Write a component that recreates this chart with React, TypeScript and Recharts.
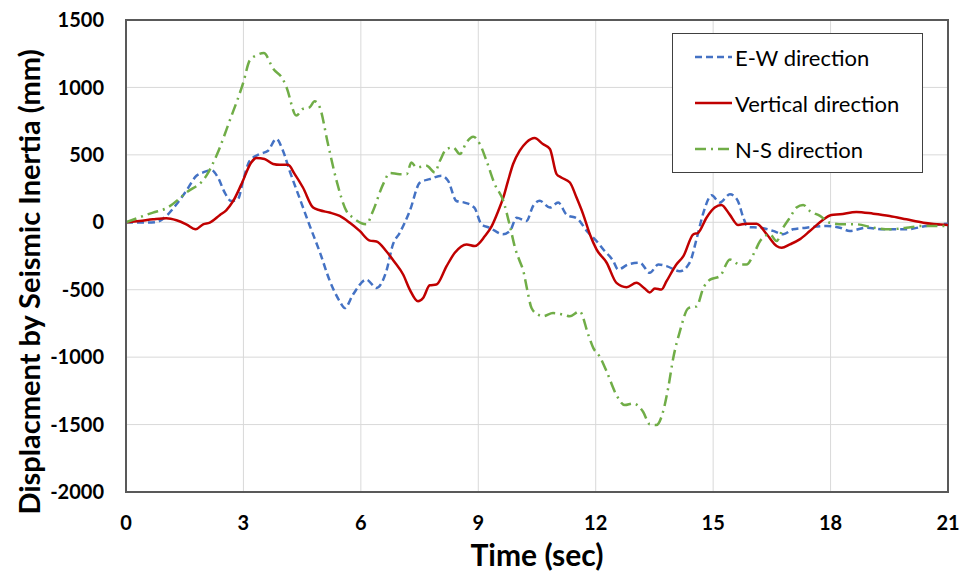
import {
  CartesianGrid,
  Legend,
  Line,
  LineChart,
  ReferenceArea,
  XAxis,
  YAxis,
} from 'recharts';

if (typeof document !== 'undefined') {
  document.documentElement.style.overflow = 'hidden';
  document.body.style.margin = '0';
  document.body.style.overflow = 'hidden';
}

const FONT = 'Lato, "Open Sans", sans-serif';

const xTicks = [0, 3, 6, 9, 12, 15, 18, 21];
const yTicks = [-2000, -1500, -1000, -500, 0, 500, 1000, 1500];

// E-W direction (dashed blue)
const ewTime = [
  0, 0.52, 0.78, 1.03, 1.29, 1.54, 1.8, 1.97, 2.18, 2.35, 2.52, 2.69, 2.86, 2.99, 3.16, 3.42,
  3.63, 3.84, 4.01, 4.18, 4.44, 4.7, 4.95, 5.21, 5.46, 5.59, 5.8, 6.14, 6.4, 6.65, 6.82, 6.99,
  7.25, 7.51, 7.76, 8.06, 8.23, 8.44, 8.65, 8.9, 9.08, 9.29, 9.63, 9.81, 9.98, 10.23, 10.4,
  10.57, 10.83, 11.04, 11.25, 11.55, 11.77, 12.02, 12.19, 12.45, 12.57, 12.83, 13.13, 13.38,
  13.6, 13.81, 14.15, 14.4, 14.58, 14.75, 14.96, 15.17, 15.43, 15.63, 15.77, 15.89, 16.19,
  16.53, 16.79, 17.04, 17.38, 17.9, 18.24, 18.49, 18.92, 19.34, 19.94, 20.45, 21,
];
const ewDisp = [
  0, -2, 2, 47, 134, 233, 345, 370, 387, 332, 221, 158, 171, 307, 456, 506,
  531, 618, 531, 382, 175, -30, -220, -437, -586, -636, -536, -425, -487, -363, -164, -80,
  84, 295, 320, 345, 307, 158, 146, 109, -15, -40, -89, -64, 34, 10, 121,
  159, 109, 146, 59, 22, -64, -139, -200, -288, -350, -313, -300, -375,
  -313, -325, -363, -300, -120, 70, 200, 146, 208, 159, 35, -35, -40,
  -64, -89, -52, -40, -27, -40, -64, -40, -52, -52, -27, -10,
];

// Vertical direction (solid red)
const vertTime = [
  0, 0.35, 0.69, 1.03, 1.29, 1.54, 1.78, 1.97, 2.14, 2.4, 2.56, 2.74, 2.95, 3.2, 3.33, 3.54,
  3.76, 3.93, 4.14, 4.31, 4.52, 4.78, 4.95, 5.2, 5.46, 5.71, 5.97, 6.23, 6.4, 6.65, 6.85, 7.08,
  7.25, 7.46, 7.59, 7.76, 7.93, 8.19, 8.4, 8.7, 8.91, 9.17, 9.34, 9.51, 9.64, 9.76, 9.89,
  10.06, 10.23, 10.44, 10.65, 10.83, 11.0, 11.12, 11.34, 11.51, 11.68, 11.85, 12.02, 12.28,
  12.53, 12.79, 13.04, 13.25, 13.38, 13.51, 13.68, 13.81, 14.06, 14.24, 14.49, 14.62, 14.83,
  15.04, 15.21, 15.42, 15.64, 15.85, 16.11, 16.37, 16.62, 16.75, 16.96, 17.21, 17.47, 17.77,
  18.02, 18.24, 18.66, 19.09, 19.51, 19.94, 20.37, 21,
];
const vertDisp = [
  0, 10, 22, 30, 15, -15, -52, -15, -3, 54, 89, 158, 283, 444, 476, 469,
  432, 426, 426, 357, 258, 109, 89, 72, 47, -2, -64, -136, -142, -215, -290, -387,
  -499, -586, -561, -467, -462, -325, -226, -164, -176, -102, -30, 84, 184, 307, 432,
  531, 593, 625, 580, 543, 357, 332, 295, 183, 59, -89, -201, -300,
  -449, -481, -449, -491, -520, -491, -499, -437, -313, -251, -90, -77, 34,
  109, 129, 59, -20, -10, -10, -89, -176, -189, -164, -127, -65, 10,
  54, 59, 77, 64, 47, 22, -3, -20,
];

// N-S direction (dash-dot green)
const nsTime = [
  0, 0.69, 1.03, 1.54, 2.05, 2.31, 2.65, 3.0, 3.16, 3.33, 3.52, 3.76, 4.0, 4.1, 4.35, 4.52,
  4.69, 4.82, 4.95, 5.16, 5.38, 5.63, 5.8, 6.14, 6.31, 6.57, 6.74, 6.99, 7.17, 7.29, 7.42,
  7.68, 7.89, 8.02, 8.19, 8.36, 8.53, 8.7, 8.87, 9.04, 9.21, 9.42, 9.64, 9.81, 9.95, 10.06,
  10.15, 10.25, 10.36, 10.53, 10.65, 10.91, 11.17, 11.34, 11.59, 11.81, 11.94, 12.1, 12.28,
  12.53, 12.74, 12.96, 13.21, 13.38, 13.55, 13.72, 13.85, 13.98, 14.15, 14.37, 14.58, 14.75,
  14.92, 15.17, 15.43, 15.68, 15.85, 16.07, 16.2, 16.45, 16.62, 16.79, 16.96, 17.13, 17.3,
  17.47, 17.73, 17.98, 18.32, 18.66, 19.09, 19.51, 19.94, 20.37, 21,
];
const nsDisp = [
  0, 72, 104, 220, 344, 493, 754, 1040, 1200, 1238, 1255, 1139, 1064, 1002, 791, 841,
  853, 898, 853, 580, 307, 84, 34, -15, 84, 283, 365, 357, 357, 444, 407,
  419, 370, 456, 543, 555, 506, 593, 635, 580, 456, 283, 158, -30, -200, -289,
  -360, -500, -636, -685, -697, -673, -685, -697, -660, -834, -933, -995, -1107,
  -1281, -1355, -1343, -1405, -1498, -1504, -1405, -1231, -1008, -809, -636, -623, -487,
  -425, -400, -276, -313, -313, -214, -139, -89, -139, -40, 34, 109, 129,
  84, 47, -3, -15, -15, -40, -52, -40, -27, -27,
];

const ewData = ewTime.map((t, i) => ({ t, v: ewDisp[i] }));
const vertData = vertTime.map((t, i) => ({ t, v: vertDisp[i] }));
const nsData = nsTime.map((t, i) => ({ t, v: nsDisp[i] }));

const SERIES = [
  { name: 'E-W direction', color: '#4472C4', dash: '7 4', data: ewData },
  { name: 'Vertical direction', color: '#C00000', dash: undefined, data: vertData },
  { name: 'N-S direction', color: '#70AD47', dash: '11 5 2 5', data: nsData },
];

function LegendBox() {
  return (
    <div
      style={{
        border: '1.5px solid #404040',
        background: '#fff',
        width: 251,
        height: 140,
        boxSizing: 'border-box',
        paddingLeft: 22,
        fontFamily: FONT,
        fontSize: 22,
        color: '#000',
      }}
    >
      {SERIES.map((s) => (
        <div key={s.name} style={{ display: 'flex', alignItems: 'center', height: 46 }}>
          <svg width={37} height={6} style={{ marginRight: 3 }}>
            <line
              x1={0}
              y1={3}
              x2={37}
              y2={3}
              stroke={s.color}
              strokeWidth={2.5}
              strokeDasharray={s.dash}
            />
          </svg>
          <span>{s.name}</span>
        </div>
      ))}
    </div>
  );
}

function YTitle(props: any) {
  const { viewBox } = props;
  const cx = viewBox.x + 28;
  const cy = viewBox.y + viewBox.height / 2 + 26;
  return (
    <text
      x={cx}
      y={cy}
      transform={`rotate(-90 ${cx} ${cy})`}
      textAnchor="middle"
      dominantBaseline="central"
      fontFamily={FONT}
      fontWeight={700}
      fontSize={29}
      fill="#000"
    >
      Displacment by Seismic Inertia (mm)
    </text>
  );
}

export default function App() {
  return (
    <div style={{ width: 960, height: 574, background: '#fff' }}>
      <LineChart
        width={960}
        height={574}
        margin={{ top: 20, right: 12, bottom: 0, left: 0 }}
        style={{ overflow: 'visible' }}
      >
        <CartesianGrid stroke="#d9d9d9" strokeWidth={1} />
        <ReferenceArea
          x1={0}
          x2={21}
          y1={-2000}
          y2={1500}
          fill="none"
          stroke="#595959"
          strokeWidth={2}
        />
        <XAxis
          dataKey="t"
          type="number"
          domain={[0, 21]}
          ticks={xTicks}
          interval={0}
          height={82}
          tickLine={false}
          tickSize={0}
          tickMargin={24}
          axisLine={{ stroke: '#595959', strokeWidth: 2 }}
          tick={{ fill: '#000', fontFamily: FONT, fontWeight: 700, fontSize: 20 }}
          label={{
            value: 'Time (sec)',
            position: 'insideBottom',
            offset: 8,
            fill: '#000',
            fontFamily: FONT,
            fontWeight: 700,
            fontSize: 30,
          }}
        />
        <YAxis
          type="number"
          domain={[-2000, 1500]}
          ticks={yTicks}
          interval={0}
          width={126}
          tickLine={false}
          tickSize={0}
          tickMargin={22}
          axisLine={{ stroke: '#595959', strokeWidth: 2 }}
          tick={{ fill: '#000', fontFamily: FONT, fontWeight: 700, fontSize: 20 }}
          label={<YTitle />}
        />
        <Legend
          layout="horizontal"
          verticalAlign="middle"
          align="center"
          content={<LegendBox />}
          wrapperStyle={{ top: 33, left: 672, width: 251, height: 140 }}
        />
        {SERIES.map((s) => (
          <Line
            key={s.name}
            data={s.data}
            dataKey="v"
            name={s.name}
            type="monotone"
            stroke={s.color}
            strokeWidth={2.5}
            strokeDasharray={s.dash}
            dot={false}
            activeDot={false}
            isAnimationActive={false}
          />
        ))}
      </LineChart>
    </div>
  );
}
